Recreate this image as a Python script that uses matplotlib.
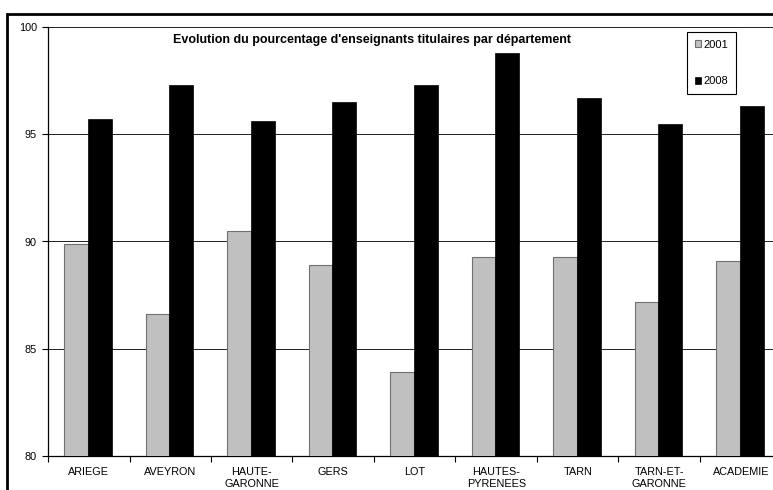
import matplotlib.pyplot as plt
import numpy as np
from matplotlib.patches import Rectangle

plt.rcParams.update({"font.family": ["Liberation Sans", "DejaVu Sans"], "font.size": 7.8})

categories = ["ARIEGE", "AVEYRON", "HAUTE-\nGARONNE", "GERS", "LOT",
              "HAUTES-\nPYRENEES", "TARN", "TARN-ET-\nGARONNE", "ACADEMIE"]
vals_2001 = [89.9, 86.6, 90.5, 88.9, 83.9, 89.3, 89.3, 87.2, 89.1]
vals_2008 = [95.7, 97.3, 95.6, 96.5, 97.3, 98.8, 96.7, 95.5, 96.3]
yticks = [80, 85, 90, 95, 100]
title = "Evolution du pourcentage d'enseignants titulaires par département"

W, H = 773, 490
fig = plt.figure(figsize=(W / 100, H / 100), dpi=100)

# outer frame (only top and left edges visible in the picture)
fig.patches.append(Rectangle((7 / W, -0.1), 1.2, 1 - 14 / H + 0.1,
                             transform=fig.transFigure, fill=False,
                             edgecolor="black", lw=2, zorder=0))

ax = fig.add_axes([48 / W, 34 / H, 733.5 / W, 429 / H])
x = np.arange(len(categories)) + 0.49
w = 0.29
ax.bar(x - w / 2, vals_2001, w, color="#c0c0c0", edgecolor="#707070",
       lw=0.8, label="2001", zorder=3)
ax.bar(x + w / 2, vals_2008, w, color="black", edgecolor="black",
       lw=0.5, label="2008", zorder=3)

ax.set_ylim(80, 100)
ax.set_xlim(0, len(categories))
ax.set_yticks(yticks)
ax.set_yticklabels([str(v) for v in yticks], fontsize=7.8)
ax.yaxis.grid(True, color="#202020", lw=0.7, zorder=0)

ax.set_xticks(np.arange(len(categories) + 1))
ax.set_xticklabels([])
ax.set_xticks(np.arange(len(categories)) + 0.5, minor=True)
ax.set_xticklabels(categories, minor=True, fontsize=7.8, linespacing=1.25)
ax.tick_params(axis="x", which="minor", length=0, pad=8)
ax.tick_params(axis="x", which="major", length=4, width=0.8)
ax.tick_params(axis="y", length=4, width=0.8, pad=4)

for s in ["top", "right"]:
    ax.spines[s].set_visible(False)
for s in ["left", "bottom"]:
    ax.spines[s].set_linewidth(0.9)

fig.text(372 / W, 1 - 40 / H, title, ha="center", va="center",
         fontsize=9, fontweight="bold")

leg = ax.legend(loc="upper left", bbox_to_anchor=(687 / W, 1 - 32 / H),
                bbox_transform=fig.transFigure, fancybox=False,
                edgecolor="black", framealpha=1, fontsize=8,
                labelspacing=2.4, handlelength=0.6, handleheight=0.6,
                handletextpad=0.2, borderpad=0.7, borderaxespad=0)
leg.get_frame().set_linewidth(0.8)

fig.savefig("out.png", dpi=100)
